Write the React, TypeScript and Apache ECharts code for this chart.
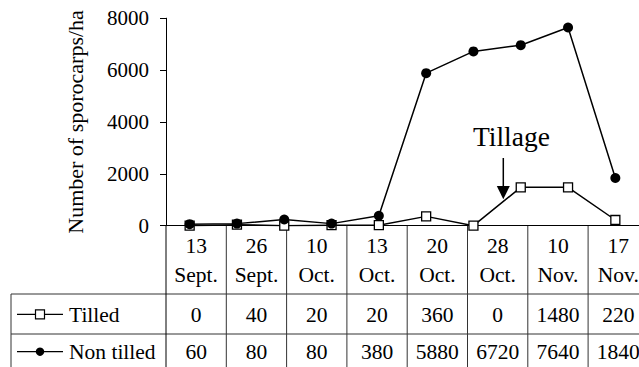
import React, { useEffect, useRef } from "react";
import * as echarts from "echarts";

// Sampling occasions plotted on the chart
const samplings = ["S1", "S2", "S3", "S4", "S5", "S6", "S7", "S8", "S9", "S10"];
const tilled = [0, 40, 0, 20, 20, 360, 0, 1480, 1480, 220];
const nonTilled = [60, 80, 240, 80, 380, 5880, 6720, 6960, 7640, 1840];

// Data table under the chart
const tableDays = ["13", "26", "10", "13", "20", "28", "10", "17"];
const tableMonths = ["Sept.", "Sept.", "Oct.", "Oct.", "Oct.", "Oct.", "Nov.", "Nov."];
const tableTilled = [0, 40, 20, 20, 360, 0, 1480, 220];
const tableNonTilled = [60, 80, 80, 380, 5880, 6720, 7640, 1840];

const yTicks = { min: 0, max: 8000, interval: 2000 };

const FONT = "Liberation Serif";

export default function App() {
  const ref = useRef<HTMLDivElement>(null);

  useEffect(() => {
    if (!ref.current) return;
    const chart = echarts.init(ref.current, undefined, { renderer: "svg" });

    const gridLeft = 166;
    const gridTop = 18.2;
    const gridHeight = 207.5;
    const axisY = gridTop + gridHeight;

    // table layout
    const colLeft = 166;
    const colW = 60.3;
    const tableLeft = 11;
    const row1Top = 294;
    const row2Top = 334;
    const bottom = 380;
    const right = 660;
    const ruleStyle = { stroke: "#333", lineWidth: 1 };

    const graphics: any[] = [];
    // horizontal rules
    [row1Top, row2Top].forEach((y) =>
      graphics.push({ type: "line", shape: { x1: tableLeft, y1: y, x2: right, y2: y }, style: ruleStyle })
    );
    // left border of the row-header column
    graphics.push({ type: "line", shape: { x1: tableLeft, y1: row1Top, x2: tableLeft, y2: bottom }, style: ruleStyle });
    // column separators (first one continues the y axis)
    for (let i = 0; i <= tableDays.length; i++) {
      const x = colLeft + i * colW;
      graphics.push({
        type: "line",
        shape: { x1: x, y1: axisY, x2: x, y2: bottom },
        style: i === 0 ? { stroke: "#000", lineWidth: 1 } : ruleStyle,
      });
    }
    const label = (t: string, x: number, y: number, align = "center", size = 21.5) => ({
      type: "text",
      x,
      y,
      style: {
        text: t,
        fontFamily: FONT,
        fontSize: size,
        fill: "#000",
        textAlign: align,
        textVerticalAlign: "middle",
      },
    });
    tableDays.forEach((d, i) => {
      const cx = colLeft + (i + 0.5) * colW;
      graphics.push(label(d, cx, 246));
      graphics.push(label(tableMonths[i], cx, 275));
      graphics.push(label(String(tableTilled[i]), cx, 315));
      graphics.push(label(String(tableNonTilled[i]), cx, 352));
    });
    // row headers with series keys
    const keyY1 = 314.3;
    const keyY2 = 351.7;
    graphics.push({ type: "line", shape: { x1: 17, y1: keyY1, x2: 63, y2: keyY1 }, style: { stroke: "#000", lineWidth: 1.3 } });
    graphics.push({ type: "rect", shape: { x: 35.5, y: keyY1 - 4.5, width: 9, height: 9 }, style: { fill: "#fff", stroke: "#000", lineWidth: 1.2 } });
    graphics.push(label("Tilled", 69, 315, "left"));
    graphics.push({ type: "line", shape: { x1: 17, y1: keyY2, x2: 63, y2: keyY2 }, style: { stroke: "#000", lineWidth: 1.3 } });
    graphics.push({ type: "circle", shape: { cx: 40, cy: keyY2, r: 4.2 }, style: { fill: "#000" } });
    graphics.push(label("Non tilled", 69, 352, "left"));

    // tillage annotation
    graphics.push(label("Tillage", 473, 136, "left", 27.5));
    graphics.push({ type: "line", shape: { x1: 503.3, y1: 158, x2: 503.3, y2: 190 }, style: { stroke: "#000", lineWidth: 1.5 } });
    graphics.push({
      type: "polygon",
      shape: { points: [[496.8, 186], [509.8, 186], [503.3, 199.3]] },
      style: { fill: "#000" },
    });

    chart.setOption({
      animation: false,
      textStyle: { fontFamily: FONT },
      grid: { left: gridLeft, top: gridTop, width: 483.3, height: gridHeight, containLabel: false },
      xAxis: {
        type: "category",
        data: samplings,
        boundaryGap: true,
        axisLine: { lineStyle: { color: "#000", width: 1 } },
        axisTick: { show: false },
        axisLabel: { show: false },
        splitLine: { show: false },
      },
      yAxis: {
        type: "value",
        min: yTicks.min,
        max: yTicks.max,
        interval: yTicks.interval,
        name: "Number of sporocarps/ha",
        nameLocation: "middle",
        nameRotate: 90,
        nameGap: 80,
        nameTextStyle: { fontFamily: FONT, fontSize: 22, color: "#000" },
        axisLine: { show: true, lineStyle: { color: "#000", width: 1 } },
        axisTick: { show: true, inside: false, length: 6, lineStyle: { color: "#000" } },
        axisLabel: {
          fontFamily: FONT,
          fontSize: 21,
          color: "#000",
          margin: 17,
          formatter: (v: number) => String(v),
        },
        splitLine: { show: false },
      },
      series: [
        {
          name: "Tilled",
          type: "line",
          data: tilled,
          symbol: "rect",
          symbolSize: 9,
          showAllSymbol: true,
          lineStyle: { color: "#000", width: 1.5 },
          itemStyle: { color: "#fff", borderColor: "#000", borderWidth: 1.3 },
          z: 2,
        },
        {
          name: "Non tilled",
          type: "line",
          data: nonTilled,
          symbol: "circle",
          symbolSize: 10,
          showAllSymbol: true,
          lineStyle: { color: "#000", width: 1.5 },
          itemStyle: { color: "#000" },
          z: 3,
        },
      ],
      graphic: graphics,
    });

    return () => chart.dispose();
  }, []);

  return (
    <div
      ref={ref}
      style={{ position: "fixed", left: 0, top: 0, width: 639, height: 367, background: "#fff" }}
    />
  );
}
